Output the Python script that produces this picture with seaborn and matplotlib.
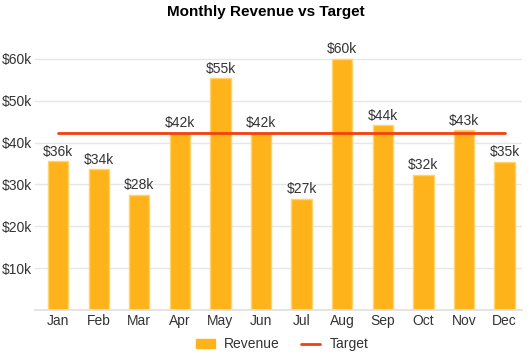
import numpy as np
import pandas as pd
import matplotlib
matplotlib.use('Agg')
import matplotlib.pyplot as plt
import matplotlib.patches as mpatches
from matplotlib.lines import Line2D
import seaborn as sns

# datos
meses = ['Jan', 'Feb', 'Mar', 'Apr', 'May', 'Jun', 'Jul', 'Aug', 'Sep', 'Oct', 'Nov', 'Dec']
ingresos = [35600, 33600, 27600, 42400, 55400, 42400, 26600, 60000, 44100, 32300, 43000, 35400]
objetivo = 42300
ticks_y = [10000, 20000, 30000, 40000, 50000, 60000]

COLOR_BARRA = '#FFB31A'
COLOR_BORDE = '#FFD36E'
COLOR_LINEA = '#F4400F'

sns.set_theme(style='white')
plt.rcParams['font.family'] = ['Liberation Sans', 'DejaVu Sans']

df = pd.DataFrame({'mes': meses, 'ingresos': ingresos})

fig = plt.figure(figsize=(5.32, 3.55), dpi=100)
ax = fig.add_axes([35/532, 45/355, 487/532, 272/355])

sns.barplot(data=df, x='mes', y='ingresos', color=COLOR_BARRA, width=0.5,
            edgecolor=COLOR_BORDE, linewidth=1.0, saturation=1, ax=ax, zorder=2)

ax.plot(meses, [objetivo] * len(meses), color=COLOR_LINEA, linewidth=2, zorder=3)

for i, v in enumerate(ingresos):
    ax.text(i, v + 600, f'${round(v/1000)}k', ha='center', va='bottom',
            fontsize=10, color='#333333', zorder=4)

ax.set_ylim(0, 65000)
ax.set_xlim(-0.57, 11.43)
ax.set_yticks(ticks_y)
ax.set_yticklabels([f'${t//1000}k' for t in ticks_y])
ax.set_xlabel('')
ax.set_ylabel('')
ax.tick_params(axis='both', length=0, labelsize=10, colors='#333333')
ax.tick_params(axis='x', pad=3)
ax.tick_params(axis='y', pad=2)
ax.yaxis.grid(True, color='#E6E6E6', linewidth=1)
ax.set_axisbelow(True)
for s in ['top', 'right', 'left']:
    ax.spines[s].set_visible(False)
ax.spines['bottom'].set_color('#E0E0E0')

fig.suptitle('Monthly Revenue vs Target', x=0.5, y=0.985, fontsize=11,
             fontweight='bold', color='#000000')

handles = [mpatches.Patch(color=COLOR_BARRA, label='Revenue'),
           Line2D([0], [0], color=COLOR_LINEA, linewidth=2, label='Target')]
fig.legend(handles=handles, loc='lower center', ncol=2, frameon=False,
           fontsize=10, bbox_to_anchor=(0.53, -0.025), handlelength=1.4,
           handletextpad=0.65, columnspacing=1.5, labelcolor='#333333')

fig.savefig('out.png', dpi=100)
